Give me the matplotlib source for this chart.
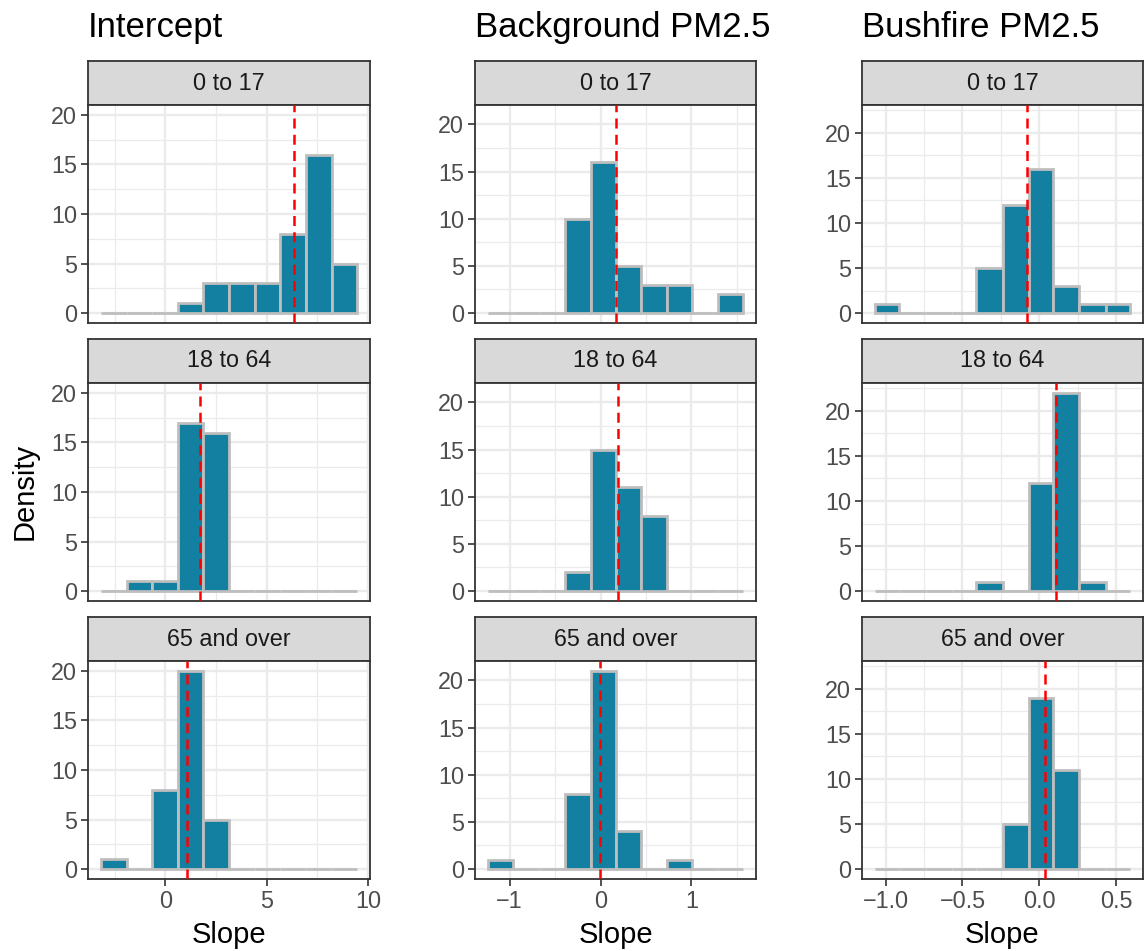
import matplotlib
matplotlib.use("Agg")
import matplotlib.pyplot as plt
from matplotlib.patches import Rectangle
from matplotlib.ticker import MultipleLocator

# ---- data ----
col_titles = ["Intercept", "Background PM2.5", "Bushfire PM2.5"]
age_groups = ["0 to 17", "18 to 64", "65 and over"]

# histogram bin edges per column (10 bins each)
edges_intercept = [-3.19, -1.92, -0.66, 0.61, 1.87, 3.14, 4.40, 5.67, 6.93, 8.20, 9.46]
edges_background = [-1.24, -0.96, -0.68, -0.39, -0.11, 0.17, 0.45, 0.73, 1.01, 1.29, 1.57]
edges_bushfire = [-1.07, -0.91, -0.74, -0.57, -0.41, -0.24, -0.07, 0.09, 0.26, 0.43, 0.59]

# counts per bin, one list per age group
counts_intercept = [
    [0, 0, 0, 1, 3, 3, 3, 8, 16, 5],
    [0, 1, 1, 17, 16, 0, 0, 0, 0, 0],
    [1, 0, 8, 20, 5, 0, 0, 0, 0, 0],
]
counts_background = [
    [0, 0, 0, 10, 16, 5, 3, 3, 0, 2],
    [0, 0, 0, 2, 15, 11, 8, 0, 0, 0],
    [1, 0, 0, 8, 21, 4, 0, 1, 0, 0],
]
counts_bushfire = [
    [1, 0, 0, 0, 5, 12, 16, 3, 1, 1],
    [0, 0, 0, 0, 1, 0, 12, 22, 1, 0],
    [0, 0, 0, 0, 0, 5, 19, 11, 0, 0],
]

# mean slope (red dashed line)
mean_intercept = [6.32, 1.68, 1.08]
mean_background = [0.166, 0.196, -0.01]
mean_bushfire = [-0.083, 0.107, 0.039]

# x ticks
xticks_intercept = [0, 5, 10]
xlabels_intercept = ["0", "5", "10"]
xticks_background = [-1, 0, 1]
xlabels_background = ["\u22121", "0", "1"]
xticks_bushfire = [-1.0, -0.5, 0.0, 0.5]
xlabels_bushfire = ["\u22121.0", "\u22120.5", "0.0", "0.5"]
yticks = [0, 5, 10, 15, 20]

columns = [
    (edges_intercept, counts_intercept, mean_intercept, xticks_intercept, xlabels_intercept, 2.5),
    (edges_background, counts_background, mean_background, xticks_background, xlabels_background, 0.5),
    (edges_bushfire, counts_bushfire, mean_bushfire, xticks_bushfire, xlabels_bushfire, 0.25),
]

# ---- layout (pixels) ----
W, H = 1145, 951
col_x = [(88, 370), (475, 756), (862, 1143)]
strip_y = [(61, 105), (339, 383), (617, 661)]
panel_y = [(105, 323), (383, 601), (661, 879)]

BAR = "#1380A1"
EDGE = "#BEBEBE"
DARK = "#333333"
TXT = "#4D4D4D"
GRID = "#EBEBEB"

plt.rcParams["font.family"] = ["Liberation Sans", "DejaVu Sans"]

fig = plt.figure(figsize=(W / 100, H / 100), dpi=100)
fig.patch.set_facecolor("white")


def px_axes(x0, y0, x1, y1):
    return fig.add_axes([x0 / W, 1 - y1 / H, (x1 - x0) / W, (y1 - y0) / H])


for c, (edges, counts, means, xt, xl, minor) in enumerate(columns):
    x0, x1 = col_x[c]
    rng = edges[-1] - edges[0]
    xlim = (edges[0] - 0.05 * rng, edges[-1] + 0.05 * rng)
    ymax = max(max(r) for r in counts)
    ylim = (-0.05 * ymax, 1.05 * ymax)
    lefts = edges[:-1]
    widths = [edges[i + 1] - edges[i] for i in range(len(edges) - 1)]

    for r in range(3):
        # strip
        sy0, sy1 = strip_y[r]
        sax = px_axes(x0, sy0, x1, sy1)
        sax.set_xlim(0, 1)
        sax.set_ylim(0, 1)
        sax.add_patch(Rectangle((0, 0), 1, 1, facecolor="#D9D9D9", edgecolor="none"))
        sax.text(0.5, 0.5, age_groups[r], ha="center", va="center", fontsize=16.8, color="#1A1A1A")
        sax.set_xticks([])
        sax.set_yticks([])
        for sp in sax.spines.values():
            sp.set_color(DARK)
            sp.set_linewidth(1.3)

        # panel
        py0, py1 = panel_y[r]
        ax = px_axes(x0, py0, x1, py1)
        ax.set_xlim(*xlim)
        ax.set_ylim(*ylim)
        ax.xaxis.set_minor_locator(MultipleLocator(minor))
        ax.yaxis.set_minor_locator(MultipleLocator(2.5))
        ax.set_xticks(xt)
        ax.set_yticks(yticks)
        ax.grid(which="major", color=GRID, linewidth=1.7, zorder=0)
        ax.grid(which="minor", color=GRID, linewidth=0.9, zorder=0)
        ax.set_axisbelow(True)

        ax.bar(lefts, counts[r], width=widths, align="edge", color=BAR,
               edgecolor=EDGE, linewidth=2.0, zorder=2)
        ax.axvline(means[r], color="red", linestyle=(0, (4, 2.5)), linewidth=1.8, zorder=3)

        ax.tick_params(axis="y", which="major", length=5, width=1.2, color=DARK,
                       labelsize=16.8, labelcolor=TXT, pad=3)
        ax.tick_params(which="minor", length=0)
        if r == 2:
            ax.set_xticklabels(xl)
            ax.tick_params(axis="x", which="major", length=5, width=1.2, color=DARK,
                           labelsize=16.8, labelcolor=TXT, pad=3)
        else:
            ax.tick_params(axis="x", which="major", length=0, labelbottom=False)
        for sp in ax.spines.values():
            sp.set_color(DARK)
            sp.set_linewidth(1.3)

    fig.text((x0 + x1) / 2 / W, 1 - 943 / H, "Slope", fontsize=21, ha="center", va="baseline")
    fig.text(x0 / W, 1 - 37 / H, col_titles[c], fontsize=25, ha="left", va="baseline")

fig.text(25 / W, 1 - 491 / H, "Density", rotation=90, fontsize=21, ha="center", va="center")

fig.savefig("out.png", dpi=100)
